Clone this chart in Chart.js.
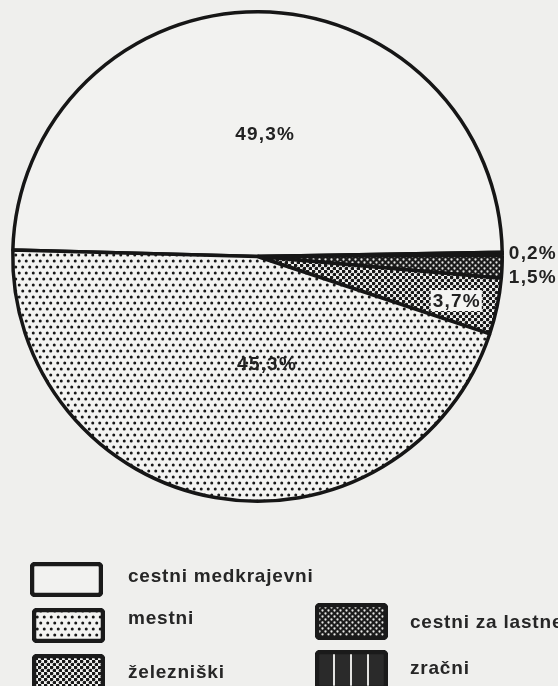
<!DOCTYPE html>
<html><head><meta charset="utf-8">
<script src="https://cdn.jsdelivr.net/npm/chart.js@4/dist/chart.umd.min.js"></script>
<style>
html,body{margin:0;padding:0;background:#efefed;width:558px;height:686px;overflow:hidden;font-family:"Liberation Sans",Arial,sans-serif;}
#wrap{position:absolute;left:0;top:0;width:558px;height:686px;}
.lt{position:absolute;font-size:19px;font-weight:bold;line-height:22px;letter-spacing:0.8px;color:#262626;white-space:nowrap;}
.sw{position:absolute;}
</style></head><body>
<div id="wrap"><canvas id="c" width="558" height="686"></canvas></div>
<script>
// ---- data ----
const categories = ['cestni medkrajevni', 'zračni', 'cestni za lastne', 'železniški', 'mestni'];
const shares = [49.3, 0.2, 1.5, 3.7, 45.3];
const shareLabels = ['49,3%', '0,2%', '1,5%', '3,7%', '45,3%'];
const patternKinds = ['blank', 'stripes', 'darkdots', 'checkdots', 'dots'];

// ---- styling ----
const INK = '#222222';
function makeTile(kind){
  const c = document.createElement('canvas');
  let w = 7, h = 12;
  if (kind === 'checkdots' || kind === 'darkdots') { w = 6; h = 6; }
  if (kind === 'stripes') { w = 17; h = 4; }
  if (kind === 'blank') { w = 4; h = 4; }
  c.width = w; c.height = h;
  const x = c.getContext('2d');
  if (kind === 'blank') { x.fillStyle = '#f2f2f0'; x.fillRect(0,0,w,h); }
  else if (kind === 'dots') {
    x.fillStyle = '#f3f3f1'; x.fillRect(0,0,w,h);
    x.fillStyle = '#181818';
    [[1.75,3],[5.25,9]].forEach(p=>{x.beginPath();x.arc(p[0],p[1],1.5,0,Math.PI*2);x.fill();});
  } else if (kind === 'checkdots') {
    x.fillStyle = '#f3f3f1'; x.fillRect(0,0,w,h);
    x.fillStyle = '#181818';
    [[1.5,1.5],[4.5,4.5]].forEach(p=>{x.beginPath();x.arc(p[0],p[1],1.85,0,Math.PI*2);x.fill();});
  } else if (kind === 'darkdots') {
    x.fillStyle = '#1c1c1c'; x.fillRect(0,0,w,h);
    x.fillStyle = '#e6e6e4';
    [[1.5,1.5],[4.5,4.5]].forEach(p=>{x.beginPath();x.arc(p[0],p[1],1.15,0,Math.PI*2);x.fill();});
  } else if (kind === 'stripes') {
    x.fillStyle = '#2a2a2a'; x.fillRect(0,0,w,h);
    x.fillStyle = '#e4e4e2'; x.fillRect(1,0,2,h);
  }
  return c;
}
const ctx = document.getElementById('c').getContext('2d');
const patterns = patternKinds.map(k => ctx.createPattern(makeTile(k), 'repeat'));

// label placement relative to pie centre, in units of radius
const labelPlace = [
  {fx:0.031, fy:-0.500, align:'center'},
  {fx:1.027, fy:-0.014, align:'left'},
  {fx:1.027, fy:0.084, align:'left'},
  {fx:0.814, fy:0.182, align:'center', box:true},
  {fx:0.039, fy:0.439, align:'center'}
];

const labelPlugin = {
  id:'pctLabels',
  afterDatasetsDraw(chart){
    const meta = chart.getDatasetMeta(0);
    const c = chart.ctx;
    c.save();
    c.font = 'bold 19px "Liberation Sans", Arial, sans-serif';
    c.letterSpacing = '1.2px';
    c.textBaseline = 'middle';
    meta.data.forEach((arc, i) => {
      const p = labelPlace[i];
      const x = arc.x + p.fx * arc.outerRadius;
      const y = arc.y + p.fy * arc.outerRadius;
      const t = shareLabels[i];
      const w = c.measureText(t).width;
      if (p.box) {
        c.fillStyle = '#f4f4f2';
        c.fillRect(x - w/2 - 2, y - 11, w + 3, 21);
      }
      c.fillStyle = INK;
      c.textAlign = p.align;
      c.fillText(t, x, y + 1);
    });
    c.restore();
  }
};

new Chart(ctx, {
  type:'pie',
  data:{ labels:categories, datasets:[{ data:shares, backgroundColor:patterns, borderColor:'#161616', borderWidth:3.5 }] },
  options:{
    responsive:false, animation:false, rotation:-88.5,
    layout:{ padding:{ left:11, top:10, right:54, bottom:183 } },
    plugins:{ legend:{display:false}, tooltip:{enabled:false} }
  },
  plugins:[labelPlugin]
});

// ---- legend (HTML) ----
const legendOrder = ['cestni medkrajevni', 'mestni', 'železniški', 'cestni za lastne', 'zračni'];
const legendBoxes = [
  {x:30, y:562, w:73, h:35, tx:128, ty:576},
  {x:32, y:608, w:73, h:35, tx:128, ty:618},
  {x:32, y:654, w:73, h:40, tx:128, ty:672},
  {x:315, y:603, w:73, h:37, tx:410, ty:622},
  {x:315, y:650, w:73, h:40, tx:410, ty:668}
];
const wrap = document.getElementById('wrap');
legendOrder.forEach((name, k) => {
  const b = legendBoxes[k];
  const i = categories.indexOf(name);
  const cv = document.createElement('canvas');
  cv.width = b.w; cv.height = b.h; cv.className = 'sw';
  cv.style.left = b.x + 'px'; cv.style.top = b.y + 'px';
  wrap.appendChild(cv);
  const g = cv.getContext('2d');
  g.fillStyle = g.createPattern(makeTile(patternKinds[i]), 'repeat');
  g.beginPath(); g.roundRect(2, 2, b.w-4, b.h-4, 3); g.fill();
  g.strokeStyle = '#1a1a1a'; g.lineWidth = 4.5;
  g.beginPath(); g.roundRect(2, 2, b.w-4, b.h-4, 3); g.stroke();
  const d = document.createElement('div');
  d.className = 'lt'; d.textContent = name;
  d.style.left = b.tx + 'px'; d.style.top = (b.ty - 11) + 'px';
  wrap.appendChild(d);
});
</script>
</body></html>
